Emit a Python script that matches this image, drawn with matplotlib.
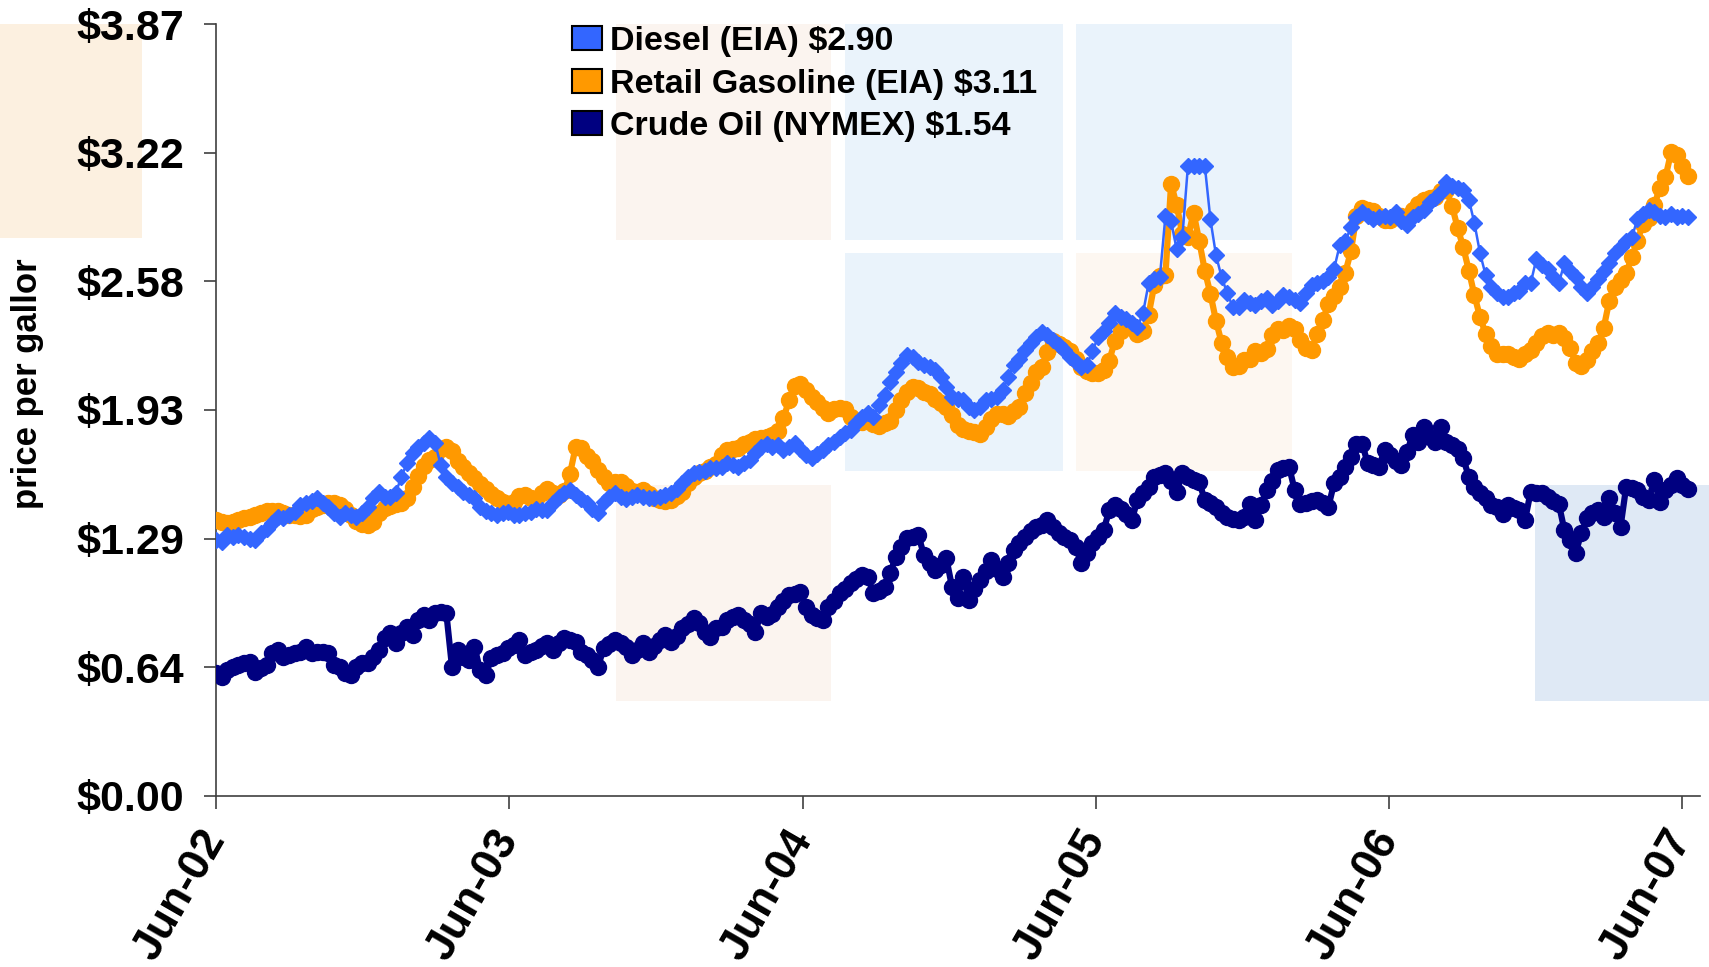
import matplotlib
matplotlib.use("Agg")
import matplotlib.pyplot as plt
import matplotlib.dates as mdates
from matplotlib.patches import Rectangle, Patch
import pandas as pd

plt.rcParams['font.family'] = ['Liberation Sans', 'DejaVu Sans']

# ---------------- data (weekly, $ per gallon) ----------------
start_date = "2002-06-01"

diesel = [
    1.283, 1.275, 1.308, 1.300, 1.308, 1.300, 1.290, 1.283, 1.317, 1.340,
    1.367, 1.400, 1.392, 1.410, 1.425, 1.459, 1.467, 1.480, 1.492, 1.467,
    1.450, 1.420, 1.400, 1.417, 1.410, 1.400, 1.417, 1.450, 1.492, 1.525,
    1.500, 1.500, 1.520, 1.600, 1.670, 1.720, 1.750, 1.770, 1.793, 1.768,
    1.660, 1.600, 1.570, 1.550, 1.525, 1.510, 1.492, 1.450, 1.430, 1.417,
    1.410, 1.417, 1.425, 1.410, 1.408, 1.420, 1.425, 1.440, 1.435, 1.433,
    1.470, 1.500, 1.520, 1.534, 1.509, 1.490, 1.467, 1.440, 1.417, 1.475,
    1.500, 1.517, 1.500, 1.490, 1.500, 1.509, 1.500, 1.492, 1.495, 1.500,
    1.510, 1.517, 1.540, 1.567, 1.600, 1.617, 1.626, 1.630, 1.642, 1.645,
    1.651, 1.667, 1.660, 1.651, 1.670, 1.684, 1.720, 1.751, 1.767, 1.751,
    1.760, 1.734, 1.750, 1.768, 1.740, 1.710, 1.693, 1.715, 1.734, 1.760,
    1.775, 1.801, 1.820, 1.834, 1.870, 1.900, 1.918, 1.901, 1.960, 2.010,
    2.077, 2.127, 2.170, 2.210, 2.200, 2.177, 2.160, 2.151, 2.134, 2.100,
    2.050, 2.000, 1.990, 1.983, 1.950, 1.934, 1.950, 1.983, 1.990, 2.000,
    2.034, 2.100, 2.160, 2.190, 2.235, 2.270, 2.300, 2.327, 2.310, 2.285,
    2.260, 2.235, 2.200, 2.177, 2.151, 2.160, 2.230, 2.300, 2.330, 2.370,
    2.420, 2.400, 2.390, 2.370, 2.350, 2.420, 2.570, 2.590, 2.600, 2.910,
    2.880, 2.740, 2.800, 3.160, 3.160, 3.160, 3.160, 2.890, 2.710, 2.600,
    2.520, 2.450, 2.450, 2.486, 2.470, 2.460, 2.480, 2.495, 2.460, 2.480,
    2.510, 2.500, 2.486, 2.470, 2.520, 2.560, 2.570, 2.580, 2.600, 2.640,
    2.760, 2.780, 2.850, 2.900, 2.930, 2.910, 2.890, 2.900, 2.910, 2.900,
    2.930, 2.880, 2.860, 2.900, 2.920, 2.940, 2.980, 3.000, 3.030, 3.080,
    3.060, 3.050, 3.040, 2.990, 2.870, 2.720, 2.610, 2.550, 2.520, 2.500,
    2.500, 2.520, 2.530, 2.570, 2.570, 2.690, 2.660, 2.640, 2.600, 2.570,
    2.670, 2.630, 2.600, 2.550, 2.520, 2.550, 2.590, 2.630, 2.670, 2.720,
    2.750, 2.780, 2.800, 2.890, 2.920, 2.940, 2.930, 2.910, 2.900, 2.920,
    2.900, 2.910, 2.900,
]

gasoline = [
    1.386, 1.373, 1.367, 1.375, 1.382, 1.395, 1.398, 1.410, 1.420, 1.430,
    1.430, 1.430, 1.420, 1.410, 1.408, 1.405, 1.410, 1.440, 1.450, 1.460,
    1.470, 1.467, 1.460, 1.440, 1.411, 1.380, 1.365, 1.358, 1.373, 1.420,
    1.445, 1.453, 1.464, 1.471, 1.495, 1.547, 1.606, 1.654, 1.685, 1.700,
    1.740, 1.750, 1.730, 1.681, 1.649, 1.620, 1.595, 1.562, 1.541, 1.515,
    1.492, 1.474, 1.463, 1.476, 1.504, 1.511, 1.493, 1.491, 1.518, 1.538,
    1.518, 1.509, 1.527, 1.614, 1.748, 1.747, 1.706, 1.680, 1.632, 1.598,
    1.571, 1.573, 1.573, 1.552, 1.529, 1.524, 1.533, 1.513, 1.495, 1.484,
    1.479, 1.485, 1.504, 1.522, 1.570, 1.599, 1.620, 1.629, 1.647, 1.663,
    1.707, 1.735, 1.737, 1.743, 1.763, 1.774, 1.791, 1.795, 1.801, 1.809,
    1.829, 1.893, 1.984, 2.054, 2.064, 2.036, 2.001, 1.977, 1.945, 1.920,
    1.940, 1.943, 1.942, 1.901, 1.878, 1.877, 1.890, 1.865, 1.855, 1.871,
    1.882, 1.935, 1.983, 2.026, 2.049, 2.046, 2.026, 2.013, 1.990, 1.969,
    1.949, 1.910, 1.859, 1.840, 1.828, 1.823, 1.816, 1.852, 1.889, 1.914,
    1.915, 1.904, 1.928, 1.949, 2.020, 2.069, 2.123, 2.150, 2.225, 2.280,
    2.268, 2.252, 2.232, 2.193, 2.151, 2.132, 2.118, 2.121, 2.136, 2.182,
    2.283, 2.330, 2.350, 2.353, 2.314, 2.331, 2.412, 2.561, 2.607, 2.612,
    3.069, 2.961, 2.817, 2.801, 2.923, 2.784, 2.634, 2.517, 2.382, 2.270,
    2.203, 2.151, 2.155, 2.185, 2.192, 2.229, 2.221, 2.243, 2.313, 2.342,
    2.337, 2.354, 2.340, 2.287, 2.246, 2.236, 2.318, 2.388, 2.465, 2.505,
    2.554, 2.622, 2.730, 2.908, 2.947, 2.937, 2.931, 2.906, 2.887, 2.887,
    2.906, 2.906, 2.893, 2.936, 2.968, 2.988, 3.000, 3.003, 3.034, 3.036,
    2.959, 2.848, 2.751, 2.634, 2.509, 2.400, 2.316, 2.256, 2.218, 2.215,
    2.214, 2.203, 2.191, 2.217, 2.237, 2.272, 2.306, 2.319, 2.311, 2.321,
    2.296, 2.247, 2.172, 2.157, 2.186, 2.233, 2.272, 2.346, 2.483, 2.551,
    2.586, 2.621, 2.702, 2.782, 2.869, 2.895, 2.961, 3.049, 3.102, 3.227,
    3.211, 3.158, 3.106,
]

crude = [
    0.615, 0.598, 0.632, 0.648, 0.657, 0.665, 0.673, 0.623, 0.640, 0.657,
    0.715, 0.732, 0.698, 0.705, 0.715, 0.723, 0.748, 0.715, 0.723, 0.720,
    0.715, 0.657, 0.648, 0.615, 0.607, 0.648, 0.665, 0.665, 0.698, 0.732,
    0.790, 0.815, 0.765, 0.815, 0.849, 0.807, 0.882, 0.907, 0.882, 0.916,
    0.924, 0.916, 0.648, 0.732, 0.698, 0.682, 0.748, 0.632, 0.607, 0.690,
    0.707, 0.715, 0.740, 0.757, 0.782, 0.707, 0.720, 0.732, 0.750, 0.765,
    0.732, 0.765, 0.790, 0.780, 0.774, 0.724, 0.707, 0.680, 0.649, 0.740,
    0.760, 0.782, 0.765, 0.748, 0.707, 0.730, 0.765, 0.724, 0.750, 0.782,
    0.807, 0.774, 0.800, 0.840, 0.860, 0.890, 0.866, 0.820, 0.799, 0.840,
    0.849, 0.880, 0.899, 0.907, 0.882, 0.860, 0.824, 0.916, 0.899, 0.910,
    0.949, 0.980, 1.007, 1.015, 1.024, 0.949, 0.907, 0.890, 0.882, 0.949,
    0.980, 1.016, 1.040, 1.066, 1.090, 1.108, 1.099, 1.016, 1.030, 1.049,
    1.116, 1.200, 1.250, 1.292, 1.300, 1.309, 1.208, 1.170, 1.133, 1.160,
    1.191, 1.049, 0.991, 1.099, 0.982, 1.040, 1.083, 1.130, 1.183, 1.140,
    1.099, 1.170, 1.233, 1.270, 1.300, 1.330, 1.350, 1.360, 1.383, 1.350,
    1.316, 1.300, 1.283, 1.250, 1.166, 1.220, 1.266, 1.300, 1.333, 1.433,
    1.458, 1.440, 1.416, 1.383, 1.483, 1.520, 1.550, 1.600, 1.610, 1.617,
    1.580, 1.525, 1.617, 1.600, 1.584, 1.575, 1.483, 1.470, 1.450, 1.420,
    1.400, 1.390, 1.383, 1.400, 1.466, 1.383, 1.460, 1.533, 1.580, 1.634,
    1.645, 1.651, 1.533, 1.466, 1.470, 1.480, 1.483, 1.470, 1.450, 1.567,
    1.600, 1.651, 1.700, 1.767, 1.767, 1.667, 1.660, 1.651, 1.734, 1.709,
    1.680, 1.659, 1.726, 1.809, 1.776, 1.851, 1.800, 1.776, 1.851, 1.776,
    1.760, 1.742, 1.692, 1.600, 1.550, 1.517, 1.492, 1.460, 1.450, 1.416,
    1.458, 1.445, 1.433, 1.383, 1.525, 1.520, 1.517, 1.500, 1.480, 1.466,
    1.333, 1.283, 1.217, 1.317, 1.392, 1.420, 1.433, 1.400, 1.492, 1.420,
    1.350, 1.550, 1.545, 1.533, 1.500, 1.483, 1.584, 1.475, 1.533, 1.560,
    1.592, 1.559, 1.540,
]

series_labels = ["Diesel (EIA) \\$2.90", "Retail Gasoline (EIA) \\$3.11",
                 "Crude Oil (NYMEX) \\$1.54"]
ytick_values = [0.0, 0.645, 1.29, 1.935, 2.58, 3.225, 3.87]
ytick_labels = ["\\$0.00", "\\$0.64", "\\$1.29", "\\$1.93", "\\$2.58", "\\$3.22", "\\$3.87"]
xtick_dates = ["2002-06-01", "2003-06-01", "2004-06-01", "2005-06-01",
               "2006-06-01", "2007-06-01"]
y_label = "price per gallor"

# ---------------- figure ----------------
W, H = 1709, 967
fig = plt.figure(figsize=(W / 100, H / 100), dpi=100)
fig.patch.set_facecolor("white")

# decorative faint background blocks (pixel boxes: x0, y0, x1, y1)
bg_blocks = [
    ((0, 24, 142, 238), "#FCF0E0"),
    ((616, 24, 831, 240), "#FBF4EF"),
    ((845, 24, 1063, 240), "#EAF3FB"),
    ((1076, 24, 1292, 240), "#EAF3FB"),
    ((845, 253, 1063, 471), "#EAF3FB"),
    ((1076, 253, 1292, 471), "#FDF7F1"),
    ((616, 485, 831, 701), "#FBF4EF"),
    ((1535, 485, 1709, 701), "#DFE9F5"),
]
for (x0, y0, x1, y1), c in bg_blocks:
    fig.add_artist(Rectangle((x0 / W, 1 - y1 / H), (x1 - x0) / W, (y1 - y0) / H,
                             transform=fig.transFigure, facecolor=c,
                             edgecolor="none", zorder=-5))

ax = fig.add_axes([216 / W, 1 - 796 / H, (1700 - 216) / W, (796 - 24) / H])
ax.patch.set_alpha(0)

dates_d = pd.date_range(start_date, periods=len(diesel), freq="7D")
dates_g = pd.date_range(start_date, periods=len(gasoline), freq="7D")
dates_c = pd.date_range(start_date, periods=len(crude), freq="7D")

c_diesel, c_gas, c_crude = "#3366FF", "#FF9900", "#000080"

ax.plot(dates_c, crude, color=c_crude, lw=4.5, marker="o", ms=11.5,
        mec=c_crude, mfc=c_crude, zorder=3)
ax.plot(dates_g, gasoline, color=c_gas, lw=4.5, marker="o", ms=11.5,
        mec=c_gas, mfc=c_gas, zorder=4)
ax.plot(dates_d, diesel, color=c_diesel, lw=1.8, marker="D", ms=8.5,
        mec=c_diesel, mfc=c_diesel, zorder=5)

ax.set_ylim(0, 3.87)
ax.set_xlim(pd.Timestamp("2002-06-01"), pd.Timestamp("2007-06-24"))

ax.set_yticks(ytick_values)
ax.set_yticklabels(ytick_labels, fontsize=31, fontweight="bold")
ax.set_xticks([pd.Timestamp(d) for d in xtick_dates])
ax.xaxis.set_major_formatter(mdates.DateFormatter("%b-%y"))
for lbl in ax.get_xticklabels():
    lbl.set_fontsize(32)
    lbl.set_fontweight("bold")
    lbl.set_rotation(60)
    lbl.set_ha("right")
    lbl.set_va("center")
    lbl.set_rotation_mode("anchor")

for s in ["top", "right"]:
    ax.spines[s].set_visible(False)
for s in ["left", "bottom"]:
    ax.spines[s].set_color("#404040")
    ax.spines[s].set_linewidth(1.2)
ax.tick_params(axis="y", length=9, width=1.2, color="#404040", pad=14)
ax.tick_params(axis="x", length=9, width=1.2, color="#404040", pad=18)

fig.text(27 / W, 1 - 384 / H, y_label, rotation=90, ha="center", va="center",
         fontsize=25, fontweight="bold")

handles = [Patch(facecolor=c, edgecolor="black", linewidth=1.5)
           for c in (c_diesel, c_gas, c_crude)]
leg = fig.legend(handles, series_labels, loc="upper left",
                 bbox_to_anchor=(572 / W, 1 - 26 / H), frameon=False,
                 prop={"family": "Liberation Sans", "weight": "bold", "size": 24.5},
                 handlelength=0.88, handleheight=0.7, handletextpad=0.25,
                 labelspacing=0.34, borderpad=0, borderaxespad=0)

fig.savefig("out.png", dpi=100, facecolor="white")
